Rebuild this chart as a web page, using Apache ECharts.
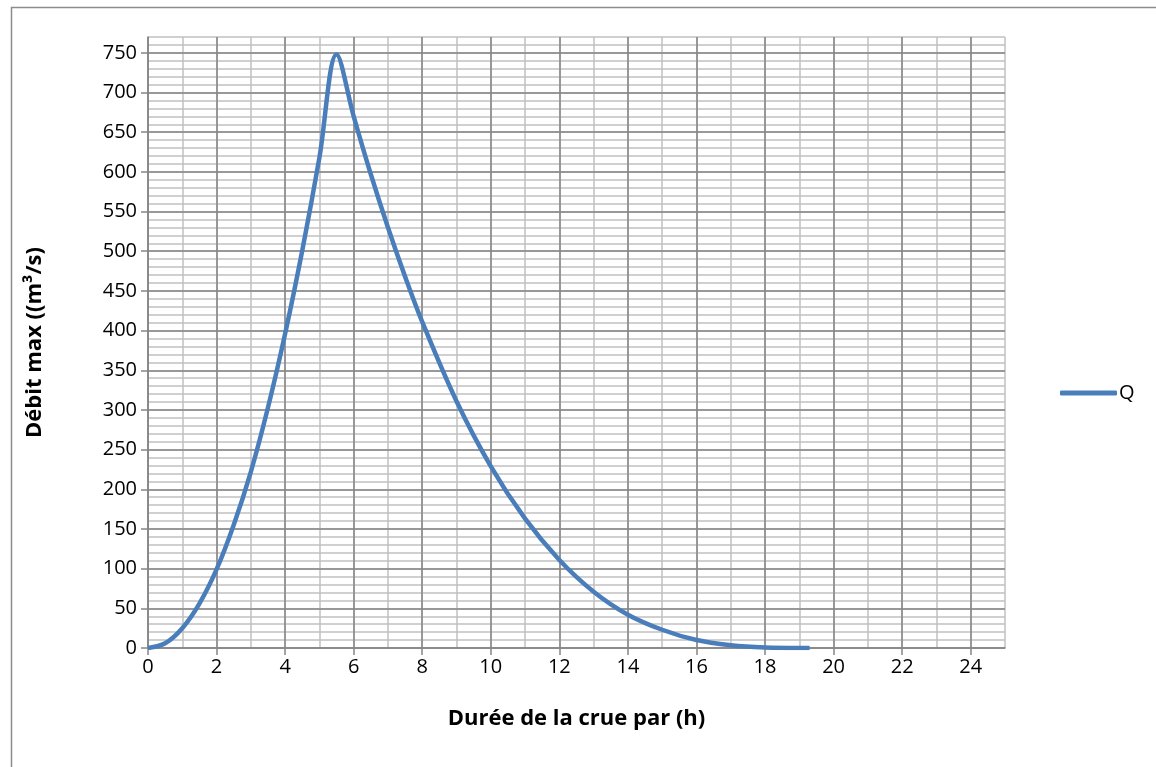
<!DOCTYPE html>
<html>
<head>
<meta charset="utf-8">
<script src="https://cdn.jsdelivr.net/npm/echarts@6/dist/echarts.min.js"></script>
<style>html,body{margin:0;padding:0;background:#fff}#c{width:1156px;height:767px}</style>
</head>
<body>
<div id="c"></div>
<script>
// Data
const hours = [0, 0.5, 1, 1.5, 2, 2.5, 3, 3.5, 4, 4.5, 5, 5.5, 6, 6.5, 7, 7.5, 8, 9, 10, 11, 12, 13, 14, 15, 16, 17, 18, 19, 19.3];
const discharge = [0, 6, 25, 56, 99, 155, 222, 303, 396, 501, 618, 748, 670, 597, 530, 468, 411, 311, 229, 163, 111, 71, 42, 23, 10, 3.5, 0.6, 0, 0];
const seriesName = 'Q';
const xTicks = [0, 2, 4, 6, 8, 10, 12, 14, 16, 18, 20, 22, 24];
const yTicks = [0, 50, 100, 150, 200, 250, 300, 350, 400, 450, 500, 550, 600, 650, 700, 750];
const xTitle = 'Durée de la crue par (h)';
const yTitle = 'Débit max ((m³/s)';

const FONT = '"Open Sans", "Liberation Sans", sans-serif';
const MAJOR = '#868686';
const MINOR = '#c0c0c0';

const xMajorColors = xTicks.map(() => MAJOR).concat([MINOR]);
const yMajorColors = yTicks.map(() => MAJOR).concat([MINOR]);

const chart = echarts.init(document.getElementById('c'));
chart.setOption({
  backgroundColor: '#fff',
  animation: false,
  graphic: [{
    type: 'rect', left: 9, top: 5, shape: {width: 1200, height: 800},
    style: {fill: 'none', stroke: '#8c8c8c', lineWidth: 1.5}, silent: true, z: -10
  }],
  grid: {left: 148, right: 151, top: 37, bottom: 119, containLabel: false},
  legend: {
    left: 1055, top: 378, itemWidth: 57, itemHeight: 5, itemGap: 4,
    data: [{name: seriesName, icon: 'roundRect'}],
    textStyle: {fontFamily: FONT, fontSize: 20, color: '#000', padding: [0, 0, 0, -3]}
  },
  xAxis: [{
    type: 'value', min: 0, max: 25, interval: 2,
    name: xTitle, nameLocation: 'middle', nameGap: 60,
    nameTextStyle: {fontFamily: FONT, fontSize: 22, fontWeight: 'bold', color: '#000'},
    axisLine: {show: true, lineStyle: {color: MAJOR, width: 1.5}},
    axisTick: {show: true, length: 7, customValues: xTicks, lineStyle: {color: MAJOR, width: 1.5}},
    axisLabel: {customValues: xTicks, margin: 9, fontFamily: FONT, fontSize: 20, color: '#000'},
    splitLine: {show: true, lineStyle: {color: xMajorColors, width: 1.5}},
    z: 3
  }, {
    type: 'value', min: 0, max: 25, interval: 1, position: 'bottom',
    axisLine: {show: false}, axisTick: {show: false}, axisLabel: {show: false},
    splitLine: {show: true, lineStyle: {color: MINOR, width: 1.5}},
    z: 1
  }],
  yAxis: [{
    type: 'value', min: 0, max: 770, interval: 50,
    name: yTitle, nameLocation: 'middle', nameGap: 102,
    nameTextStyle: {fontFamily: FONT, fontSize: 22, fontWeight: 'bold', color: '#000'},
    axisLine: {show: true, lineStyle: {color: MAJOR, width: 1.5}},
    axisTick: {show: true, length: 7, customValues: yTicks, lineStyle: {color: MAJOR, width: 1.5}},
    axisLabel: {customValues: yTicks, margin: 11, fontFamily: FONT, fontSize: 20, color: '#000'},
    splitLine: {show: true, lineStyle: {color: yMajorColors, width: 1.5}},
    z: 3
  }, {
    type: 'value', min: 0, max: 770, interval: 10, position: 'left',
    axisLine: {show: false}, axisTick: {show: false}, axisLabel: {show: false},
    splitLine: {show: true, lineStyle: {color: MINOR, width: 1.5}},
    z: 1
  }],
  series: [{
    name: seriesName, type: 'line', xAxisIndex: 0, yAxisIndex: 0,
    data: hours.map((h, i) => [h, discharge[i]]),
    smooth: 0.35, showSymbol: false, symbol: 'none',
    lineStyle: {color: '#4a7ebb', width: 4.5},
    itemStyle: {color: '#4a7ebb'},
    z: 10
  }]
});
</script>
</body>
</html>
